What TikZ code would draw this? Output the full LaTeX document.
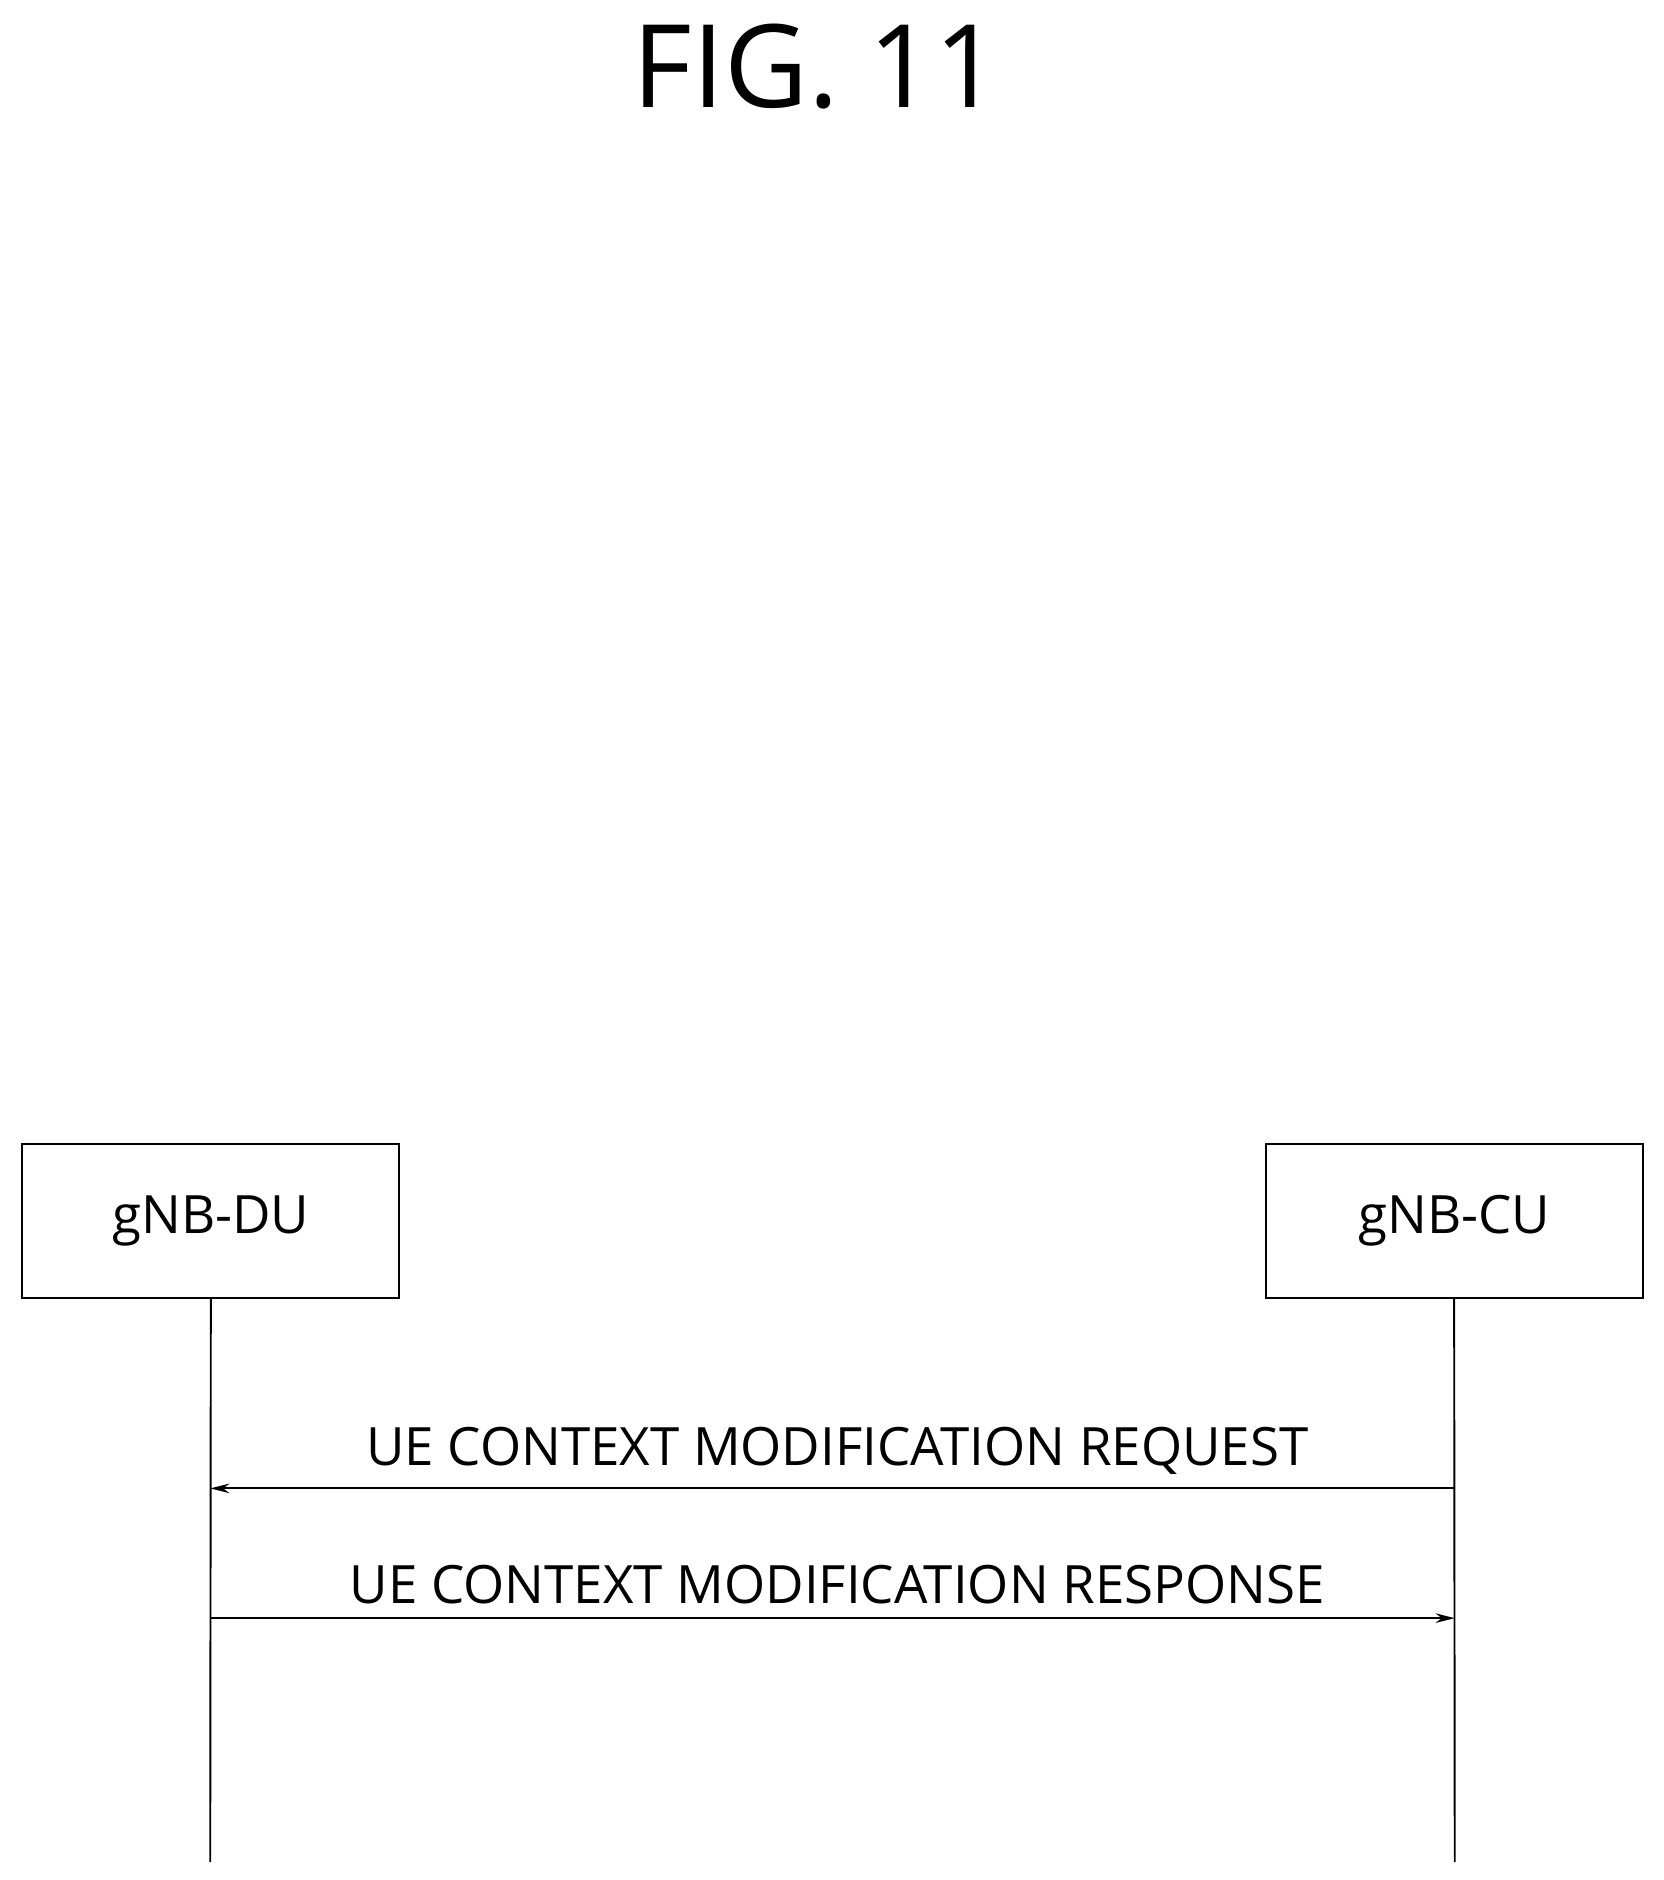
\documentclass[tikz,border=0pt]{standalone}
\usepackage{fontspec}
\setmainfont{Open Sans}
\usetikzlibrary{arrows.meta}
\tikzset{
entity/.style={draw, thick, minimum width=157pt, minimum height=64pt, font=\fontsize{22}{26}\selectfont},
msg/.style={thick, -{Stealth[length=8pt,width=4pt]}},
lifeline/.style={thick}
}
\begin{document}
\begin{tikzpicture}[x=0.5pt,y=-0.5pt]
    \useasboundingbox (0,0) rectangle (1385,1565);
    \node[font=\fontsize{48}{56}\selectfont] (title) at (680,55) {FIG. 11};

    % entities
    \node[entity] (du) at (175.5,1016.5) {gNB-DU};
    \node[entity] (cu) at (1210.5,1016.5) {gNB-CU};

    % lifelines
    \coordinate (duend) at (175,1550);
    \coordinate (cuend) at (1211,1550);
    \draw[lifeline] (du.south) -- (duend);
    \draw[lifeline] (cu.south) -- (cuend);

    % messages
    \coordinate (cureq) at (1211,1239);
    \coordinate (dureq) at (175,1239);
    \coordinate (dursp) at (175,1347);
    \coordinate (cursp) at (1211,1347);
    \draw[msg] (cureq) -- (dureq) node[midway, above=2pt, font=\fontsize{22}{26}\selectfont, xshift=2pt] {UE CONTEXT MODIFICATION REQUEST};
    \draw[msg] (dursp) -- (cursp) node[midway, above=2pt, font=\fontsize{22}{26}\selectfont, xshift=2pt] {UE CONTEXT MODIFICATION RESPONSE};
\end{tikzpicture}
\end{document}
